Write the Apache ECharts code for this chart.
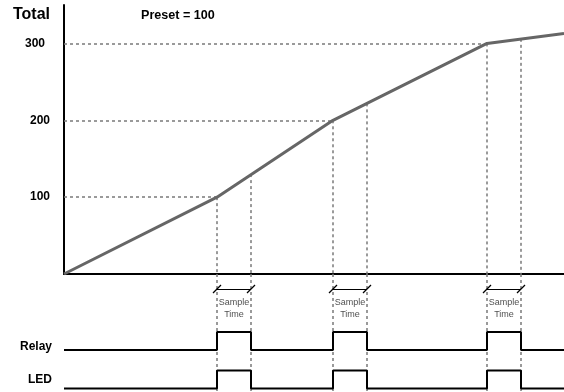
<!DOCTYPE html>
<html lang="en">
<head>
    <meta charset="UTF-8">
    <title>Preset total</title>
    <script src="https://cdn.jsdelivr.net/npm/echarts@6/dist/echarts.min.js"></script>
    <style>
        html, body { margin: 0; padding: 0; background: #fff; }
        #main { width: 564px; height: 392px; }
    </style>
</head>
<body>
<div id="main"></div>
<script>
    // data (x = time, arbitrary units)
    var totalTime = [0, 153, 269, 423, 500];
    var totalValue = [0, 100, 200, 300, 313];
    var yTicks = [100, 200, 300];
    var presetTimes = [153, 269, 423];
    var presetTotals = [100, 200, 300];
    var sampleTime = 34;
    var sampleEndTotals = [130, 222, 306];
    var pulseRows = ['Relay', 'LED'];

    // layout of the lower (signal) panel, in its own 0..118 units
    var rowLow = { Relay: 42, LED: 3.5 };
    var rowHigh = { Relay: 60, LED: 21.5 };

    var myChart = echarts.init(document.getElementById('main'));

    var dash = { color: '#7a7a7a', width: 1.5, type: [3, 3], opacity: 1 };

    // dashed guides in the upper panel
    var guideTop = [];
    presetTimes.forEach(function (t, i) {
        guideTop.push({ coords: [[0, presetTotals[i]], [t, presetTotals[i]]] });
        guideTop.push({ coords: [[t, presetTotals[i]], [t, 0]] });
        guideTop.push({ coords: [[t + sampleTime, sampleEndTotals[i]], [t + sampleTime, 0]] });
    });

    // dashed guides carried on through the lower panel
    var guideBottom = [];
    presetTimes.forEach(function (t) {
        guideBottom.push({ coords: [[t, 118], [t, 0]] });
        guideBottom.push({ coords: [[t + sampleTime, 118], [t + sampleTime, 0]] });
    });

    // sample time markers
    var markers = [];
    var labelPts = [];
    presetTimes.forEach(function (t) {
        var e = t + sampleTime;
        markers.push({ coords: [[t, 103], [e, 103]] });
        markers.push({ coords: [[t - 4, 99], [t + 4, 107]] });
        markers.push({ coords: [[e - 4, 99], [e + 4, 107]] });
        labelPts.push([t + sampleTime / 2, 83]);
    });

    // relay / LED pulse trains
    function pulseLine(row) {
        var pts = [[0, rowLow[row]]];
        presetTimes.forEach(function (t) {
            pts.push([t, rowLow[row]], [t, rowHigh[row]],
                     [t + sampleTime, rowHigh[row]], [t + sampleTime, rowLow[row]]);
        });
        pts.push([500, rowLow[row]]);
        return pts;
    }

    var series = [
        {
            type: 'lines', coordinateSystem: 'cartesian2d', xAxisIndex: 0, yAxisIndex: 0,
            data: guideTop, lineStyle: dash, silent: true, z: 1
        },
        {
            type: 'lines', coordinateSystem: 'cartesian2d', xAxisIndex: 1, yAxisIndex: 1,
            data: guideBottom, lineStyle: dash, silent: true, z: 1
        },
        {
            type: 'line', xAxisIndex: 0, yAxisIndex: 0,
            data: totalTime.map(function (t, i) { return [t, totalValue[i]]; }),
            symbol: 'none', lineStyle: { color: '#666', width: 3 }, z: 5
        },
        {
            type: 'lines', coordinateSystem: 'cartesian2d', xAxisIndex: 1, yAxisIndex: 1,
            data: markers, lineStyle: { color: '#000', width: 1.2, type: 'solid', opacity: 1 }, z: 4
        },
        {
            type: 'scatter', xAxisIndex: 1, yAxisIndex: 1, data: labelPts,
            symbolSize: 0, silent: true, z: 6,
            label: {
                show: true, position: 'inside', formatter: 'Sample\nTime',
                fontFamily: 'Liberation Sans', fontSize: 9, color: '#222', lineHeight: 12
            }
        }
    ];
    pulseRows.forEach(function (row) {
        series.push({
            type: 'line', xAxisIndex: 1, yAxisIndex: 1, data: pulseLine(row),
            symbol: 'none', lineStyle: { color: '#000', width: 2 }, z: 4
        });
    });

    var option = {
        animation: false,
        backgroundColor: '#fff',
        title: [
            {
                text: 'Total', left: 13, top: 7, padding: 0,
                textStyle: { fontFamily: 'Liberation Sans', fontSize: 16, fontWeight: 'bold', color: '#000' }
            },
            {
                text: 'Preset = 100', left: 141, top: 9, padding: 0,
                textStyle: { fontFamily: 'Liberation Sans', fontSize: 12.6, fontWeight: 'bold', color: '#000' }
            }
        ],
        graphic: pulseRows.map(function (row, i) {
            return {
                type: 'text', right: 512, top: i === 0 ? 341 : 374,
                style: { text: row, font: 'bold 12px "Liberation Sans"', fill: '#000' }
            };
        }),
        grid: [
            { left: 64, right: 0, top: 5, bottom: 118 },
            { left: 64, right: 0, top: 274, bottom: 0 }
        ],
        xAxis: [
            {
                type: 'value', gridIndex: 0, min: 0, max: 500,
                axisLine: { show: true, lineStyle: { color: '#000', width: 2 } },
                axisTick: { show: false }, axisLabel: { show: false }, splitLine: { show: false }
            },
            {
                type: 'value', gridIndex: 1, min: 0, max: 500, show: false
            }
        ],
        yAxis: [
            {
                type: 'value', gridIndex: 0, min: 0, max: 350, interval: 50,
                axisLine: { show: true, lineStyle: { color: '#000', width: 2 } },
                axisTick: { show: false }, splitLine: { show: false },
                axisLabel: {
                    margin: 14,
                    fontFamily: 'Liberation Sans', fontSize: 12, fontWeight: 'bold', color: '#000',
                    formatter: function (v) {
                        if (yTicks.indexOf(v) < 0) return '';
                        return v === 300 ? '{s|' + v + '}' : '' + v;
                    },
                    rich: { s: { fontFamily: 'Liberation Sans', fontSize: 12, fontWeight: 'bold', color: '#000', padding: [0, 5, 0, 0] } }
                }
            },
            {
                type: 'value', gridIndex: 1, min: 0, max: 118, show: false
            }
        ],
        series: series
    };

    myChart.setOption(option);
</script>
</body>
</html>
